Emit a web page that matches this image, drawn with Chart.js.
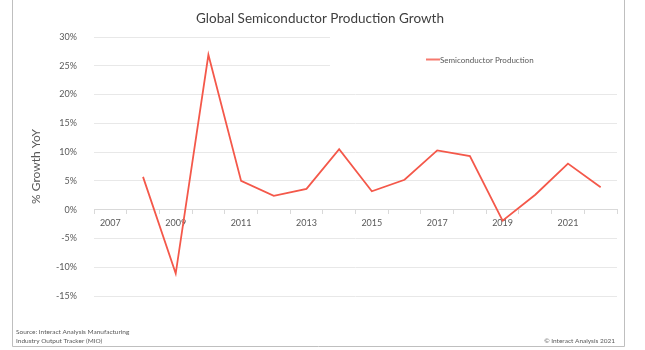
<!DOCTYPE html>
<html>
<head>
<meta charset="utf-8">
<script src="https://cdn.jsdelivr.net/npm/chart.js@4/dist/chart.umd.min.js"></script>
<style>
html,body{margin:0;padding:0;background:#fff;}
#wrap{width:645px;height:350px;position:relative;}
</style>
</head>
<body>
<div id="wrap"><canvas id="c" width="645" height="350"></canvas></div>
<script>
const years = ['2007','2008','2009','2010','2011','2012','2013','2014','2015','2016','2017','2018','2019','2020','2021','2022'];
const semiconductorGrowth = [null, 5.7, -11.1, 26.9, 5.0, 2.4, 3.6, 10.5, 3.2, 5.2, 10.3, 9.3, -1.9, 2.6, 8.0, 3.9];
const yTicks = [-15, -10, -5, 0, 5, 10, 15, 20, 25, 30];
const seriesName = 'Semiconductor Production';
const titleText = 'Global Semiconductor Production Growth';
const yTitle = '% Growth YoY';
const sourceLines = ['Source: Interact Analysis Manufacturing', 'Industry Output Tracker (MIO)'];
const copyright = '\u00A9 Interact Analysis 2021';

const FONT = 'Lato, "Open Sans", sans-serif';
const TXT = '#595959';

const decor = {
  id: 'decor',
  beforeDatasetsDraw(chart) {
    const ctx = chart.ctx, a = chart.chartArea;
    ctx.save();
    ctx.fillStyle = '#ffffff';
    ctx.fillRect(330, a.top - 3, a.right - 330 + 3, 40);
    ctx.restore();
  },
  afterDraw(chart) {
    const ctx = chart.ctx;
    ctx.save();
    // title
    ctx.fillStyle = '#404040';
    ctx.font = '13.5px ' + FONT;
    ctx.textAlign = 'center';
    ctx.textBaseline = 'middle';
    ctx.fillText(titleText, 320, 19);
    // frame
    ctx.strokeStyle = '#bfbfbf';
    ctx.lineWidth = 1;
    ctx.beginPath();
    ctx.moveTo(12.5, 0); ctx.lineTo(12.5, 346.5); ctx.lineTo(624.5, 346.5); ctx.lineTo(624.5, 0);
    ctx.stroke();
    // legend
    const ds = chart.data.datasets[0];
    ctx.strokeStyle = ds.borderColor;
    ctx.globalAlpha = 0.8;
    ctx.lineWidth = 2;
    ctx.beginPath(); ctx.moveTo(426, 59.5); ctx.lineTo(440, 59.5); ctx.stroke();
    ctx.globalAlpha = 1;
    ctx.fillStyle = TXT;
    ctx.font = '8px ' + FONT;
    ctx.textAlign = 'left';
    ctx.fillText(ds.label, 440, 60);
    // footer
    ctx.font = '6.5px ' + FONT;
    ctx.fillText(sourceLines[0], 16, 332);
    ctx.fillText(sourceLines[1], 16, 340.5);
    ctx.textAlign = 'right';
    ctx.fillText(copyright, 615, 340.5);
    ctx.restore();
  }
};

new Chart(document.getElementById('c'), {
  type: 'line',
  data: {
    labels: years,
    datasets: [{
      label: seriesName,
      data: semiconductorGrowth,
      borderColor: '#f4584a',
      backgroundColor: '#f4584a',
      borderWidth: 1.8,
      pointRadius: 0,
      tension: 0,
      spanGaps: false
    }]
  },
  options: {
    responsive: false,
    animation: false,
    devicePixelRatio: 1,
    layout: { padding: { left: 0, right: 28, top: 37, bottom: 54 } },
    plugins: {
      legend: { display: false },
      tooltip: { enabled: false },
      title: { display: false }
    },
    scales: {
      x: {
        type: 'category',
        offset: true,
        position: { y: 0 },
        grid: { offset: true, drawOnChartArea: false, drawTicks: true, tickLength: 4, color: '#d9d9d9' },
        border: { display: true, color: '#d9d9d9' },
        ticks: {
          autoSkip: false,
          maxRotation: 0,
          color: TXT,
          font: { family: FONT, size: 9 },
          padding: 4,
          callback: function(v, i) { return i % 2 === 0 ? this.getLabelForValue(v) : ''; }
        }
      },
      y: {
        min: yTicks[0],
        max: yTicks[yTicks.length - 1],
        afterBuildTicks: s => { s.ticks = yTicks.map(v => ({ value: v })); },
        afterFit: s => { s.width = 94; },
        grid: { color: '#e8e8e8', drawTicks: false },
        border: { display: false },
        ticks: {
          color: TXT,
          font: { family: FONT, size: 9 },
          padding: 17,
          callback: v => v + '%'
        },
        title: {
          display: true,
          text: yTitle,
          color: TXT,
          font: { family: FONT, size: 12 },
          padding: { top: 29, bottom: 0 }
        }
      }
    }
  },
  plugins: [decor]
});
</script>
</body>
</html>
